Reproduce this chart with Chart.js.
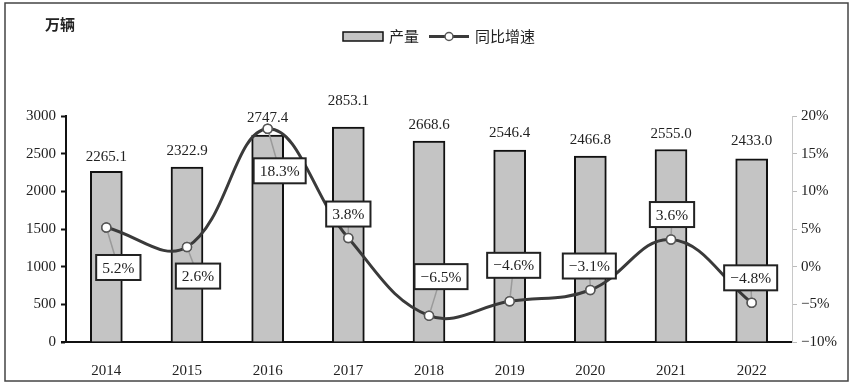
<!DOCTYPE html>
<html>
<head>
<meta charset="utf-8">
<script src="https://cdn.jsdelivr.net/npm/chart.js@4"></script>
<style>
  html, body { margin: 0; padding: 0; background: #fff; }
  #wrap { width: 855px; height: 384px; position: relative; }
</style>
</head>
<body>
<div id="wrap"><canvas id="chart" width="855" height="384"></canvas></div>
<script>
// data
var years = ["2014", "2015", "2016", "2017", "2018", "2019", "2020", "2021", "2022"];
var output = [2265.1, 2322.9, 2747.4, 2853.1, 2668.6, 2546.4, 2466.8, 2555.0, 2433.0];
var growth = [5.2, 2.6, 18.3, 3.8, -6.5, -4.6, -3.1, 3.6, -4.8];
var leftTicks = [0, 500, 1000, 1500, 2000, 2500, 3000];
var rightTicks = [-10, -5, 0, 5, 10, 15, 20];

// where the growth boxes sit, relative to their point (px)
var boxShift = [[12, 40], [11, 29], [12, 42], [0, -24], [12, -39], [4, -36], [-1, -24], [1, -25], [-1, -25]];
// gap between bar top and value label baseline
var valueLift = [10, 12, 13, 22, 12, 13, 12, 12, 14];

var SERIF = "'Liberation Serif', 'DejaVu Serif', serif";
var CJK = "'Noto Sans CJK SC', 'Noto Sans', sans-serif";

function pct(v) {
  var s = Math.abs(v).toFixed(1) + "%";
  return v < 0 ? "\u2212" + s : s;
}

var labelsPlugin = {
  id: "labelsPlugin",
  afterDatasetsDraw: function (chart) {
    var ctx = chart.ctx;
    var barMeta = chart.getDatasetMeta(0);
    var lineMeta = chart.getDatasetMeta(1);
    ctx.save();
    // values above the bars
    ctx.font = "15px " + SERIF;
    ctx.fillStyle = "#222";
    ctx.textAlign = "center";
    ctx.textBaseline = "alphabetic";
    barMeta.data.forEach(function (bar, i) {
      ctx.fillText(output[i].toFixed(1), bar.x, bar.y - valueLift[i]);
    });
    // growth boxes with leader lines
    lineMeta.data.forEach(function (pt, i) {
      var cx = pt.x + boxShift[i][0];
      var cy = pt.y + boxShift[i][1];
      var txt = pct(growth[i]);
      ctx.font = "15.5px " + SERIF;
      var w = ctx.measureText(txt).width + 12;
      var h = 25;
      ctx.strokeStyle = "#9a9a9a";
      ctx.lineWidth = 1.5;
      ctx.beginPath();
      ctx.moveTo(pt.x, pt.y);
      ctx.lineTo(cx, cy);
      ctx.stroke();
      // redraw point over leader
      ctx.fillStyle = "#fff";
      ctx.strokeStyle = "#555";
      ctx.beginPath();
      ctx.arc(pt.x, pt.y, 4.5, 0, Math.PI * 2);
      ctx.fill();
      ctx.stroke();
      ctx.fillStyle = "#fff";
      ctx.fillRect(cx - w / 2, cy - h / 2, w, h);
      ctx.strokeStyle = "#222";
      ctx.lineWidth = 2;
      ctx.strokeRect(cx - w / 2, cy - h / 2, w, h);
      ctx.fillStyle = "#222";
      ctx.textBaseline = "middle";
      ctx.fillText(txt, cx, cy + 1);
    });
    ctx.restore();
  },
  afterDraw: function (chart) {
    var ctx = chart.ctx;
    var area = chart.chartArea;
    ctx.save();
    // axis line runs a little past the left axis
    ctx.strokeStyle = "#111";
    ctx.lineWidth = 2;
    ctx.beginPath();
    ctx.moveTo(area.left - 5, area.bottom);
    ctx.lineTo(area.left, area.bottom);
    ctx.stroke();
    // frame
    ctx.strokeStyle = "#444";
    ctx.lineWidth = 1.5;
    ctx.strokeRect(5, 3, 843, 378);
    // unit
    ctx.fillStyle = "#222";
    ctx.font = "bold 15px " + CJK;
    ctx.textAlign = "left";
    ctx.textBaseline = "middle";
    ctx.fillText("万辆", 45, 24);
    // legend
    ctx.fillStyle = "#c4c4c4";
    ctx.fillRect(343, 32, 40, 9);
    ctx.strokeStyle = "#111";
    ctx.lineWidth = 1.5;
    ctx.strokeRect(343, 32, 40, 9);
    ctx.font = "15px " + CJK;
    ctx.fillStyle = "#222";
    ctx.fillText("产量", 389, 36);
    ctx.strokeStyle = "#3a3a3a";
    ctx.lineWidth = 3;
    ctx.beginPath();
    ctx.moveTo(429, 36.5);
    ctx.lineTo(469, 36.5);
    ctx.stroke();
    ctx.fillStyle = "#fff";
    ctx.strokeStyle = "#555";
    ctx.lineWidth = 1.5;
    ctx.beginPath();
    ctx.arc(449, 36.5, 4, 0, Math.PI * 2);
    ctx.fill();
    ctx.stroke();
    ctx.fillStyle = "#222";
    ctx.fillText("同比增速", 475, 36);
    ctx.restore();
  }
};

new Chart(document.getElementById("chart"), {
  type: "bar",
  data: {
    labels: years,
    datasets: [{
      type: "bar",
      label: "产量",
      data: output,
      yAxisID: "y",
      backgroundColor: "#c4c4c4",
      borderColor: "#111",
      borderWidth: 2,
      barThickness: 32,
      order: 2
    }, {
      type: "line",
      label: "同比增速",
      data: growth,
      yAxisID: "y1",
      borderColor: "#3a3a3a",
      borderWidth: 3,
      tension: 0.4,
      pointRadius: 4.5,
      pointBackgroundColor: "#fff",
      pointBorderColor: "#555",
      pointBorderWidth: 1.5,
      order: 1
    }]
  },
  options: {
    responsive: false,
    animation: false,
    layout: { padding: { top: 116, left: 0, right: 0, bottom: 0 } },
    plugins: { legend: { display: false }, tooltip: { enabled: false } },
    scales: {
      x: {
        grid: { display: false },
        border: { display: true, color: "#111", width: 2 },
        ticks: { font: { family: SERIF, size: 15 }, color: "#222", padding: 12 },
        afterFit: function (s) { s.height = 42; }
      },
      y: {
        position: "left",
        min: 0,
        max: 3000,
        afterBuildTicks: function (s) { s.ticks = leftTicks.map(function (v) { return { value: v }; }); },
        grid: { drawOnChartArea: false, tickLength: 5, tickColor: "#111", tickWidth: 2 },
        border: { color: "#111", width: 2 },
        ticks: {
          font: { family: SERIF, size: 15 }, color: "#222", padding: 5,
          callback: function (v) { return String(v); }
        },
        afterFit: function (s) { s.width = 66; }
      },
      y1: {
        position: "right",
        min: -10,
        max: 20,
        afterBuildTicks: function (s) { s.ticks = rightTicks.map(function (v) { return { value: v }; }); },
        grid: { drawOnChartArea: false, tickLength: 5, tickColor: "#bbb", tickWidth: 1 },
        border: { color: "#c8c8c8", width: 1 },
        ticks: {
          font: { family: SERIF, size: 15 }, color: "#222", padding: 4,
          callback: function (v) { return (v < 0 ? "\u2212" + Math.abs(v) : v) + "%"; }
        },
        afterFit: function (s) { s.width = 63; }
      }
    }
  },
  plugins: [labelsPlugin]
});
</script>
</body>
</html>
